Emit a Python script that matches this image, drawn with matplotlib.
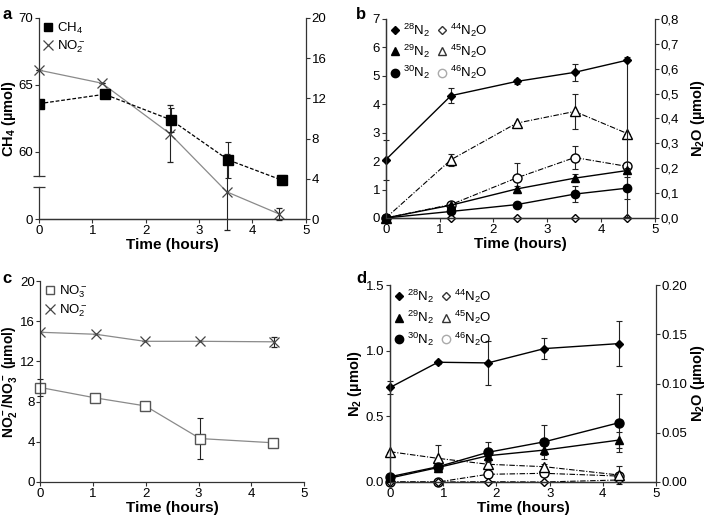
import numpy as np
import matplotlib
matplotlib.use("Agg")
import matplotlib.pyplot as plt
from matplotlib.lines import Line2D
from matplotlib.ticker import FuncFormatter

plt.rcParams['font.family'] = ['Liberation Sans', 'DejaVu Sans']
plt.rcParams['mathtext.fontset'] = 'custom'
plt.rcParams['mathtext.rm'] = 'Liberation Sans'
plt.rcParams['mathtext.bf'] = 'Liberation Sans:bold'
plt.rcParams['mathtext.default'] = 'regular'
plt.rcParams['axes.edgecolor'] = '#333333'
plt.rcParams['xtick.color'] = '#333333'
plt.rcParams['ytick.color'] = '#333333'
plt.rcParams['xtick.labelcolor'] = 'black'
plt.rcParams['ytick.labelcolor'] = 'black'

# ── Panel a: CH4 (left, broken axis) and NO2- (right) ─────────────────────
t_ch4 = [0, 1.23, 2.47, 3.55, 4.55]
ch4 = [63.6, 64.3, 62.4, 59.4, 57.9]
ch4_err = [0, 0, 0.9, 1.35, 0.4]
t_no2_a = [0, 1.18, 2.45, 3.52, 4.5]
no2_a = [14.8, 13.5, 8.5, 2.7, 0.5]
no2_a_err = [0, 0, 2.8, 3.8, 0.6]

# ── Panel b: N2 species (left) and N2O species (right) ────────────────────
t_b = [0, 1.21, 2.43, 3.51, 4.49]
n28_b = [2.05, 4.3, 4.8, 5.12, 5.55]
n28_b_lo = [0.7, 0.27, 0.08, 0.3, 5.5]
n28_b_hi = [0.7, 0.27, 0.08, 0.3, 0.12]
n29_b = [0, 0.45, 1.02, 1.40, 1.67]
n29_b_err = [0, 0.05, 0.12, 0.15, 0.1]
n30_b = [0, 0.23, 0.47, 0.84, 1.05]
n30_b_err = [0, 0.05, 0.1, 0.27, 0.4]
n44_b = [0, 0, 0, 0, 0]
n45_b = [0, 0.234, 0.381, 0.428, 0.339]
n45_b_err = [0, 0.025, 0, 0.072, 0]
n46_b = [0, 0.054, 0.161, 0.243, 0.207]
n46_b_err = [0, 0.01, 0.06, 0.047, 0]

# ── Panel c: NO3- and NO2- ────────────────────────────────────────────────
t_no3_c = [0, 1.04, 1.99, 3.03, 4.42]
no3_c = [9.4, 8.37, 7.57, 4.32, 3.9]
no3_c_err = [0.8, 0.4, 0.4, 2.0, 0.3]
t_no2_c = [0, 1.05, 1.98, 3.03, 4.43]
no2_c = [14.9, 14.7, 14.0, 14.0, 13.95]
no2_c_err = [0, 0, 0, 0, 0.5]

# ── Panel d ───────────────────────────────────────────────────────────────
t_d = [0, 0.90, 1.84, 2.90, 4.30]
n28_d = [0.72, 0.912, 0.907, 1.016, 1.054]
n28_d_err = [0.05, 0.01, 0.17, 0.08, 0.17]
n29_d = [0.03, 0.11, 0.20, 0.243, 0.319]
n29_d_err = [0, 0.02, 0.03, 0.04, 0.06]
n30_d = [0.04, 0.116, 0.226, 0.306, 0.451]
n30_d_err = [0, 0.02, 0.075, 0.13, 0.22]
n44_d = [0, 0, 0.0003, 0, 0.002]
n45_d = [0.0307, 0.024, 0.018, 0.0155, 0.0071]
n45_d_err = [0, 0.0135, 0.003, 0.003, 0.009]
n46_d = [0, 0, 0.0078, 0.0088, 0.006]

TICK_FS = 9.5
LAB_FS = 11
YLAB_FS = 10.5
LEG_FS = 9.5
GRAY = "#8a8a8a"
CH4_BOTTOM = 55          # left axis of panel a starts here, labelled "0"
BREAK_LO, BREAK_HI = 57.4, 58.2

fig = plt.figure(figsize=(7.08, 5.24), dpi=100)


def style(ax, right=False):
    ax.spines["top"].set_visible(False)
    if not right:
        ax.spines["right"].set_visible(False)
    ax.tick_params(direction="out", length=3, width=0.8, labelsize=TICK_FS,
                   pad=1.2)
    for s in ax.spines.values():
        s.set_linewidth(0.9)


def xaxis(ax):
    ax.set_xlim(0, 5)
    ax.set_xticks(range(6))
    ax.set_xlabel("Time (hours)", fontsize=LAB_FS, fontweight="bold",
                  labelpad=1)


ebk = dict(ecolor="#222222", elinewidth=0.8, capsize=2, capthick=0.8)

# ═══ a ═════════════════════════════════════════════════════════════════════
ax = fig.add_axes([0.055, 0.582, 0.377, 0.384])
ax2 = ax.twinx()
style(ax); style(ax2, right=True)
ax2.spines["left"].set_visible(False)
xaxis(ax)
ax.set_ylim(CH4_BOTTOM, 70)
ax.set_yticks([CH4_BOTTOM, 60, 65, 70])
ax.set_yticklabels(["0", "60", "65", "70"])
ax.spines["left"].set_bounds(BREAK_HI, 70)
ax.plot([0, 0], [CH4_BOTTOM, BREAK_LO], color="#333333", lw=0.9, clip_on=False)
ax.plot([0, 0], [BREAK_LO, BREAK_HI], ls="none", marker="_", ms=9, mew=0.9,
        color="#333333", clip_on=False)
ax2.set_ylim(0, 20)
ax2.set_yticks(range(0, 21, 4))
ax.set_ylabel("CH$_4$ (µmol)", fontsize=YLAB_FS, fontweight="bold")
ax.yaxis.set_label_coords(-0.080, 0.5)

ax2.errorbar(t_no2_a, no2_a, yerr=no2_a_err, color=GRAY, lw=0.9, marker="x",
             ms=7, mec="#444444", mew=0.9, clip_on=False, **ebk)
ax.errorbar(t_ch4, ch4, yerr=ch4_err, color="black", lw=0.9, ls=(0, (3, 1.5)),
            marker="s", ms=6.5, mfc="black", **ebk)
ax.set_zorder(ax2.get_zorder() + 1)
ax.patch.set_visible(False)
h = [Line2D([], [], ls="none", marker="s", ms=6, color="black"),
     Line2D([], [], ls="none", marker="x", ms=7, color="#444444", mew=0.9)]
ax.legend(h, ["CH$_4$", "NO$_2^-$"], loc="upper left", frameon=False,
          fontsize=LEG_FS, handletextpad=0.2, borderaxespad=0.1,
          labelspacing=0.2, handlelength=1.0, borderpad=0.1)

# ═══ b ═════════════════════════════════════════════════════════════════════
ax = fig.add_axes([0.545, 0.584, 0.380, 0.380])
ax2 = ax.twinx()
style(ax); style(ax2, right=True)
xaxis(ax)
ax.set_ylim(0, 7)
ax.set_yticks(range(8))
ax2.set_ylim(0, 0.8)
ax2.set_yticks(np.arange(0, 0.81, 0.1))
ax2.yaxis.set_major_formatter(FuncFormatter(lambda v, p: f"{v:.1f}".replace(".", ",")))
ax2.set_ylabel("N$_2$O (µmol)", fontsize=YLAB_FS, fontweight="bold")
ax2.yaxis.set_label_coords(1.125, 0.5)

ax.errorbar(t_b, n28_b, yerr=[n28_b_lo, n28_b_hi], color="black", lw=1.0,
            marker="D", ms=4.5, clip_on=False, **ebk)
ax.errorbar(t_b, n29_b, yerr=n29_b_err, color="black", lw=1.0, marker="^",
            ms=6, clip_on=False, **ebk)
ax.errorbar(t_b, n30_b, yerr=n30_b_err, color="black", lw=1.0, marker="o",
            ms=6, clip_on=False, **ebk)
dd = (0, (5, 1.5, 1, 1.5))
ax2.errorbar(t_b, n45_b, yerr=n45_b_err, color="black", lw=0.8, ls=dd,
             marker="^", ms=6.5, mfc="white", clip_on=False, **ebk)
ax2.errorbar(t_b, n46_b, yerr=n46_b_err, color="black", lw=0.8, ls=dd,
             marker="o", ms=6.5, mfc="white", clip_on=False, **ebk)
ax2.plot(t_b, n44_b, color="black", lw=0.8, marker="D", ms=4.5, mfc="white",
         clip_on=False)


def iso_legend(ax):
    h = [Line2D([], [], ls="none", marker="D", ms=4.5, color="black"),
         Line2D([], [], ls="none", marker="^", ms=6, color="black"),
         Line2D([], [], ls="none", marker="o", ms=6, color="black"),
         Line2D([], [], ls="none", marker="D", ms=4.5, color="#333333", mfc="white"),
         Line2D([], [], ls="none", marker="^", ms=6, color="#333333", mfc="white"),
         Line2D([], [], ls="none", marker="o", ms=6, color="#aaaaaa", mfc="white")]
    lab = ["$^{28}$N$_2$", "$^{29}$N$_2$", "$^{30}$N$_2$",
           "$^{44}$N$_2$O", "$^{45}$N$_2$O", "$^{46}$N$_2$O"]
    ax.legend(h, lab, ncol=2, loc="upper left", frameon=False, fontsize=LEG_FS,
              handletextpad=0.1, columnspacing=0.4, handlelength=1.0,
              labelspacing=0.3, borderaxespad=0.1, borderpad=0.1)


iso_legend(ax)
ax.set_zorder(ax2.get_zorder() + 1)
ax.patch.set_visible(False)

# ═══ c ═════════════════════════════════════════════════════════════════════
ax = fig.add_axes([0.0572, 0.0802, 0.372, 0.3835])
style(ax)
xaxis(ax)
ax.set_ylim(0, 20)
ax.set_yticks(range(0, 21, 4))
ax.set_ylabel("NO$_2^-$/NO$_3^-$ (µmol)", fontsize=10, fontweight="bold")
ax.yaxis.set_label_coords(-0.082, 0.5)
ax.errorbar(t_no2_c, no2_c, yerr=no2_c_err, color=GRAY, lw=0.9, marker="x",
            ms=7, mec="#444444", mew=0.9, **ebk)
ax.errorbar(t_no3_c, no3_c, yerr=no3_c_err, color=GRAY, lw=0.9, marker="s",
            ms=6.5, mfc="white", mec="#555555", clip_on=False, **ebk)
h = [Line2D([], [], ls="none", marker="s", ms=6, color="#555555", mfc="white"),
     Line2D([], [], ls="none", marker="x", ms=7, color="#444444", mew=0.9)]
ax.legend(h, ["NO$_3^-$", "NO$_2^-$"], loc="upper left", frameon=False,
          fontsize=LEG_FS, handletextpad=0.2, borderaxespad=0.1,
          labelspacing=0.2, handlelength=1.0, borderpad=0.1)

# ═══ d ═════════════════════════════════════════════════════════════════════
ax = fig.add_axes([0.551, 0.0802, 0.3756, 0.3758])
ax2 = ax.twinx()
style(ax); style(ax2, right=True)
xaxis(ax)
ax.set_ylim(0, 1.5)
ax.set_yticks([0, 0.5, 1.0, 1.5])
ax.yaxis.set_major_formatter(FuncFormatter(lambda v, p: f"{v:.1f}"))
ax2.set_ylim(0, 0.2)
ax2.set_yticks(np.arange(0, 0.201, 0.05))
ax2.yaxis.set_major_formatter(FuncFormatter(lambda v, p: f"{v:.2f}"))
ax.set_ylabel("N$_2$ (µmol)", fontsize=YLAB_FS, fontweight="bold")
ax.yaxis.set_label_coords(-0.097, 0.5)
ax2.set_ylabel("N$_2$O (µmol)", fontsize=YLAB_FS, fontweight="bold")
ax2.yaxis.set_label_coords(1.125, 0.5)

ax.errorbar(t_d, n28_d, yerr=n28_d_err, color="black", lw=1.0, marker="D",
            ms=4.5, clip_on=False, **ebk)
ax.errorbar(t_d, n29_d, yerr=n29_d_err, color="black", lw=1.0, marker="^",
            ms=6, clip_on=False, **ebk)
ax.errorbar(t_d, n30_d, yerr=n30_d_err, color="black", lw=1.0, marker="o",
            ms=6.5, clip_on=False, **ebk)
ax2.errorbar(t_d, n45_d, yerr=n45_d_err, color="black", lw=0.8, ls=dd,
             marker="^", ms=6.5, mfc="white", clip_on=False, **ebk)
ax2.plot(t_d, n46_d, color="black", lw=0.8, ls=dd, marker="o", ms=6.5,
         mfc="white", clip_on=False)
ax2.plot(t_d, n44_d, color="black", lw=0.8, ls=dd, marker="D", ms=4.5,
         mfc="white", clip_on=False)
iso_legend(ax)
ax.set_zorder(ax2.get_zorder() + 1)
ax.patch.set_visible(False)

# panel letters
for x, y, s in [(0.004, 0.972, "a"), (0.503, 0.972, "b"),
                (0.004, 0.468, "c"), (0.503, 0.468, "d")]:
    fig.text(x, y, s, fontsize=12, fontweight="bold", va="center")

fig.savefig("out.png", dpi=100)
